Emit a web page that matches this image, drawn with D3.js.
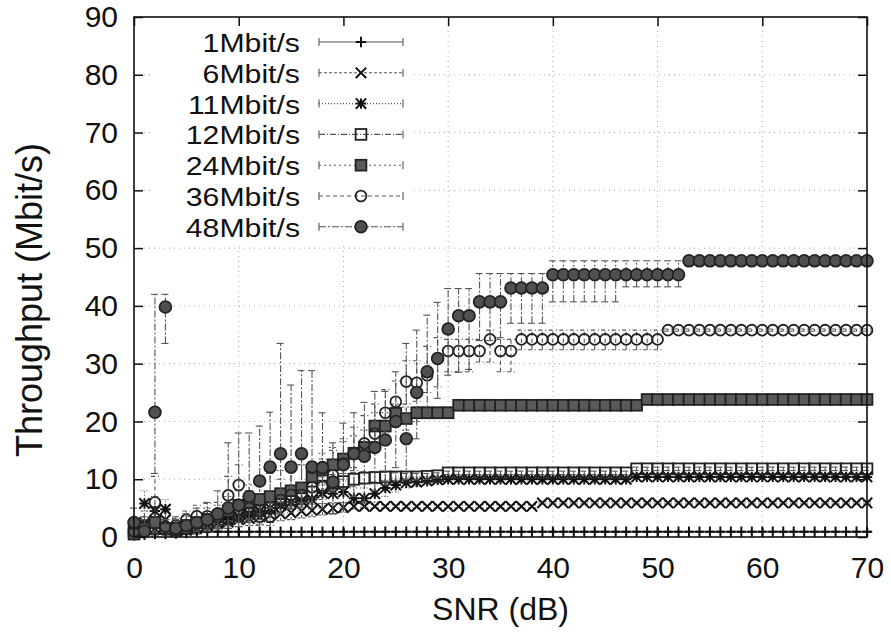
<!DOCTYPE html>
<html>
<head>
<meta charset="utf-8">
<script src="https://cdn.jsdelivr.net/npm/d3@7"></script>
<style>
body{margin:0;background:#fff;}
text{font-family:"Liberation Sans",Arial,Helvetica,sans-serif;fill:#111;}
</style>
</head>
<body>
<script>
//SVG VARIABLES
var width=891, height=634;
var plotLeft=134, plotRight=867, plotTop=17, plotBottom=537;

//DATA: SNR (dB) and [low, mean, high] throughput per rate
var snr=[0,1,2,3,4,5,6,7,8,9,10,11,12,13,14,15,16,17,18,19,20,21,22,23,24,25,26,27,28,29,30,
31,32,33,34,35,36,37,38,39,40,41,42,43,44,45,46,47,48,49,50,51,52,53,54,55,56,57,58,59,60,
61,62,63,64,65,66,67,68,69,70];
var xTicks=[0,10,20,30,40,50,60,70];
var yTicks=[0,10,20,30,40,50,60,70,80,90];
var rateNames=["1Mbit/s","6Mbit/s","11Mbit/s","12Mbit/s","24Mbit/s","36Mbit/s","48Mbit/s"];

var r1=[[0.1,0.3,0.6],[0.2,0.4,0.7],[0.2,0.5,0.8],[0.3,0.5,0.8],[0.3,0.6,0.9],[0.4,0.7,1.0],[0.5,0.8,1.0],
[0.8,0.9,1.0],[0.8,0.9,1.0],[0.8,0.9,1.0],[0.8,0.9,1.0],[0.8,0.9,1.0],[0.8,0.9,1.0],[0.8,0.9,1.0],[0.8,0.9,1.0],
[0.8,0.9,1.0],[0.8,0.9,1.0],[0.8,0.9,1.0],[0.8,0.9,1.0],[0.8,0.9,1.0],[0.8,0.9,1.0],[0.8,0.9,1.0],[0.8,0.9,1.0],
[0.8,0.9,1.0],[0.8,0.9,1.0],[0.8,0.9,1.0],[0.8,0.9,1.0],[0.8,0.9,1.0],[0.8,0.9,1.0],[0.8,0.9,1.0],[0.8,0.9,1.0],
[0.8,0.9,1.0],[0.8,0.9,1.0],[0.8,0.9,1.0],[0.8,0.9,1.0],[0.8,0.9,1.0],[0.8,0.9,1.0],[0.8,0.9,1.0],[0.8,0.9,1.0],
[0.8,0.9,1.0],[0.8,0.9,1.0],[0.8,0.9,1.0],[0.8,0.9,1.0],[0.8,0.9,1.0],[0.8,0.9,1.0],[0.8,0.9,1.0],[0.8,0.9,1.0],
[0.8,0.9,1.0],[0.8,0.9,1.0],[0.8,0.9,1.0],[0.8,0.9,1.0],[0.8,0.9,1.0],[0.8,0.9,1.0],[0.8,0.9,1.0],[0.8,0.9,1.0],
[0.8,0.9,1.0],[0.8,0.9,1.0],[0.8,0.9,1.0],[0.8,0.9,1.0],[0.8,0.9,1.0],[0.8,0.9,1.0],[0.8,0.9,1.0],[0.8,0.9,1.0],
[0.8,0.9,1.0],[0.8,0.9,1.0],[0.8,0.9,1.0],[0.8,0.9,1.0],[0.8,0.9,1.0],[0.8,0.9,1.0],[0.8,0.9,1.0],[0.8,0.9,1.0]];

var r6=[[0.2,0.8,1.8],[1.0,2.5,4.5],[0.5,1.5,3.0],[1.5,3.0,4.5],[0.4,1.0,2.0],[0.5,1.2,2.2],[0.7,1.5,2.6],
[1.0,2.0,3.2],[1.2,2.3,3.5],[1.5,2.6,3.8],[1.8,3.0,4.2],[2.0,3.2,4.4],[2.2,3.5,4.7],[2.5,3.8,5.0],[2.8,4.0,5.2],
[3.0,4.2,5.4],[3.3,4.5,5.6],[3.5,4.6,5.7],[3.8,4.8,5.8],[4.0,5.0,5.9],[4.3,5.1,5.9],[4.8,5.3,5.9],
[5.0,5.3,5.6],[5.0,5.3,5.6],[5.0,5.3,5.6],[5.0,5.3,5.6],[5.0,5.3,5.6],[5.0,5.3,5.6],[5.0,5.3,5.6],[5.0,5.3,5.6],
[5.0,5.3,5.6],[5.0,5.3,5.6],[5.0,5.3,5.6],[5.0,5.3,5.6],[5.0,5.3,5.6],[5.0,5.3,5.6],[5.0,5.3,5.6],[5.0,5.3,5.6],
[5.0,5.3,5.6],
[5.7,5.9,6.1],[5.7,5.9,6.1],[5.7,5.9,6.1],[5.7,5.9,6.1],[5.7,5.9,6.1],[5.7,5.9,6.1],[5.7,5.9,6.1],[5.7,5.9,6.1],
[5.7,5.9,6.1],[5.7,5.9,6.1],[5.7,5.9,6.1],[5.7,5.9,6.1],[5.7,5.9,6.1],[5.7,5.9,6.1],[5.7,5.9,6.1],[5.7,5.9,6.1],
[5.7,5.9,6.1],[5.7,5.9,6.1],[5.7,5.9,6.1],[5.7,5.9,6.1],[5.7,5.9,6.1],[5.7,5.9,6.1],[5.7,5.9,6.1],[5.7,5.9,6.1],
[5.7,5.9,6.1],[5.7,5.9,6.1],[5.7,5.9,6.1],[5.7,5.9,6.1],[5.7,5.9,6.1],[5.7,5.9,6.1],[5.7,5.9,6.1],[5.7,5.9,6.1]];

var r11=[[0.5,1.5,3.0],[3.5,5.8,8.0],[2.5,4.5,7.0],[3.0,4.8,6.5],[0.3,1.0,2.0],[0.5,1.2,2.4],[0.8,1.6,2.8],
[1.0,2.0,3.4],[1.5,2.6,4.0],[1.8,3.0,4.5],[2.2,3.5,5.0],[2.6,4.0,5.5],[3.0,4.5,6.2],[3.5,5.0,6.8],[3.8,5.5,7.2],
[4.2,6.0,7.8],[4.5,6.3,8.2],[4.8,6.5,8.5],[5.5,7.6,9.4],[5.5,7.5,9.5],[6.0,7.8,9.7],[5.0,6.7,8.5],[5.2,6.7,8.5],
[6.0,7.5,9.2],[7.0,8.5,9.8],[7.8,9.0,10.2],[8.5,9.4,10.4],[8.8,9.5,10.4],[9.0,9.7,10.5],[9.3,9.9,10.5],
[9.6,10.0,10.4],[9.6,10.0,10.4],[9.6,10.0,10.4],[9.6,10.0,10.4],[9.6,10.0,10.4],[9.6,10.0,10.4],[9.6,10.0,10.4],
[9.6,10.0,10.4],[9.6,10.0,10.4],[9.6,10.0,10.4],[9.6,10.0,10.4],[9.6,10.0,10.4],[9.6,10.0,10.4],[9.6,10.0,10.4],
[9.6,10.0,10.4],[9.6,10.0,10.4],[9.6,10.0,10.4],[9.6,10.0,10.4],
[10.1,10.4,10.7],[10.1,10.4,10.7],[10.1,10.4,10.7],[10.1,10.4,10.7],[10.1,10.4,10.7],[10.1,10.4,10.7],
[10.1,10.4,10.7],[10.1,10.4,10.7],[10.1,10.4,10.7],[10.1,10.4,10.7],[10.1,10.4,10.7],[10.1,10.4,10.7],
[10.1,10.4,10.7],[10.1,10.4,10.7],[10.1,10.4,10.7],[10.1,10.4,10.7],[10.1,10.4,10.7],[10.1,10.4,10.7],
[10.1,10.4,10.7],[10.1,10.4,10.7],[10.1,10.4,10.7],[10.1,10.4,10.7],[10.1,10.4,10.7]];

var r12=[[0.3,1.0,2.5],[0.8,2.0,3.5],[1.0,2.5,4.0],[0.5,1.5,3.0],[0.5,1.2,2.4],[0.7,1.5,2.8],[1.0,2.0,3.4],
[1.3,2.5,4.0],[1.7,3.0,4.6],[2.0,3.5,5.2],[2.5,4.0,5.8],[2.5,4.0,6.0],[3.0,4.5,6.6],[3.5,5.0,7.2],[4.2,6.0,8.0],
[4.8,6.5,8.5],[5.2,7.0,9.0],[6.0,7.8,9.6],[7.0,8.8,10.4],[7.8,9.3,10.8],[8.3,9.6,11.0],[8.8,10.0,11.2],
[9.2,10.2,11.3],[9.5,10.3,11.3],[9.7,10.4,11.2],[9.8,10.4,11.1],[9.9,10.4,11.0],[9.9,10.4,11.0],[10.0,10.5,11.0],
[10.2,10.6,11.1],
[10.8,11.1,11.4],[10.8,11.1,11.4],[10.8,11.1,11.4],[10.8,11.1,11.4],[10.8,11.1,11.4],[10.8,11.1,11.4],
[10.8,11.1,11.4],[10.8,11.1,11.4],[10.8,11.1,11.4],[10.8,11.1,11.4],[10.8,11.1,11.4],[10.8,11.1,11.4],
[10.8,11.1,11.4],[10.8,11.1,11.4],[10.8,11.1,11.4],[10.8,11.1,11.4],[10.8,11.1,11.4],[10.8,11.1,11.4],
[11.5,11.8,12.1],[11.5,11.8,12.1],[11.5,11.8,12.1],[11.5,11.8,12.1],[11.5,11.8,12.1],[11.5,11.8,12.1],
[11.5,11.8,12.1],[11.5,11.8,12.1],[11.5,11.8,12.1],[11.5,11.8,12.1],[11.5,11.8,12.1],[11.5,11.8,12.1],
[11.5,11.8,12.1],[11.5,11.8,12.1],[11.5,11.8,12.1],[11.5,11.8,12.1],[11.5,11.8,12.1],[11.5,11.8,12.1],
[11.5,11.8,12.1],[11.5,11.8,12.1],[11.5,11.8,12.1],[11.5,11.8,12.1],[11.5,11.8,12.1]];

var r24=[[0.1,0.5,1.5],[0.5,1.5,3.0],[1.0,2.5,4.5],[0.5,1.5,3.0],[0.6,1.5,3.0],[1.0,2.0,3.5],[1.3,2.5,4.5],
[1.6,3.0,5.0],[2.0,3.5,5.5],[2.8,4.5,7.0],[3.5,5.5,8.0],[4.0,6.0,9.0],[4.5,6.5,10.0],[5.0,7.0,11.0],[5.5,7.5,11.5],
[6.0,8.0,12.0],[6.5,8.5,12.5],[8.0,10.4,13.0],[9.0,11.6,14.5],[10.0,12.5,15.5],[11.0,13.5,16.5],[12.0,14.5,17.5],
[13.0,15.5,18.5],[16.5,19.2,21.5],[17.0,19.2,21.5],[19.0,21.4,23.0],[18.5,20.5,22.5],[20.0,21.5,22.5],
[20.5,21.5,22.5],[20.8,21.5,22.5],[21.0,21.5,22.5],
[22.4,22.8,23.2],[22.4,22.8,23.2],[22.4,22.8,23.2],[22.4,22.8,23.2],[22.4,22.8,23.2],[22.4,22.8,23.2],
[22.4,22.8,23.2],[22.4,22.8,23.2],[22.4,22.8,23.2],[22.4,22.8,23.2],[22.4,22.8,23.2],[22.4,22.8,23.2],
[22.4,22.8,23.2],[22.4,22.8,23.2],[22.4,22.8,23.2],[22.4,22.8,23.2],[22.4,22.8,23.2],[22.4,22.8,23.2],
[23.5,23.8,24.1],[23.5,23.8,24.1],[23.5,23.8,24.1],[23.5,23.8,24.1],[23.5,23.8,24.1],[23.5,23.8,24.1],
[23.5,23.8,24.1],[23.5,23.8,24.1],[23.5,23.8,24.1],[23.5,23.8,24.1],[23.5,23.8,24.1],[23.5,23.8,24.1],
[23.5,23.8,24.1],[23.5,23.8,24.1],[23.5,23.8,24.1],[23.5,23.8,24.1],[23.5,23.8,24.1],[23.5,23.8,24.1],
[23.5,23.8,24.1],[23.5,23.8,24.1],[23.5,23.8,24.1],[23.5,23.8,24.1]];

var r36=[[0.3,1.0,2.0],[1.0,2.0,3.5],[2.0,6.0,10.5],[0.8,1.8,3.0],[1.0,2.0,3.2],[1.8,3.0,4.5],[2.0,3.6,5.5],
[2.0,3.6,5.8],[2.0,3.5,6.0],[4.5,7.2,10.5],[6.0,9.0,12.5],[3.0,5.0,8.0],[2.0,3.5,6.0],[2.0,3.5,6.5],[4.0,6.4,10.0],
[5.0,7.3,12.0],[5.0,7.3,12.5],[6.0,8.6,13.0],[6.5,8.7,13.5],[8.0,10.7,15.0],[10.0,12.7,17.0],[11.5,14.4,19.0],
[13.5,16.2,21.0],[15.0,17.9,23.0],[18.0,21.5,25.5],[20.0,23.4,27.0],[23.0,26.9,30.5],[23.5,26.7,30.5],
[25.0,28.0,33.0],[26.0,30.9,34.5],[28.6,32.2,34.2],[28.6,32.2,34.2],[28.6,32.2,34.2],[30.3,32.2,34.2],
[30.3,34.2,35.8],[28.6,32.2,34.2],[28.6,32.2,34.2],
[32.4,34.2,35.8],[32.4,34.2,35.8],[32.4,34.2,35.8],[32.4,34.2,35.8],[32.4,34.2,35.8],[32.4,34.2,35.8],
[32.4,34.2,35.8],[32.4,34.2,35.8],[32.4,34.2,35.8],[32.4,34.2,35.8],[32.4,34.2,35.8],[32.4,34.2,35.8],
[32.4,34.2,35.8],[32.4,34.2,35.8],
[35.6,35.8,36.0],[35.6,35.8,36.0],[35.6,35.8,36.0],[35.6,35.8,36.0],[35.6,35.8,36.0],[35.6,35.8,36.0],
[35.6,35.8,36.0],[35.6,35.8,36.0],[35.6,35.8,36.0],[35.6,35.8,36.0],[35.6,35.8,36.0],[35.6,35.8,36.0],
[35.6,35.8,36.0],[35.6,35.8,36.0],[35.6,35.8,36.0],[35.6,35.8,36.0],[35.6,35.8,36.0],[35.6,35.8,36.0],
[35.6,35.8,36.0],[35.6,35.8,36.0]];

var r48=[[0.5,2.5,5.0],[0.2,1.0,3.0],[11.0,21.6,42.0],[33.5,39.8,42.0],[0.5,1.5,3.5],[0.8,2.0,4.0],[1.0,2.5,5.0],
[1.2,3.0,6.0],[1.5,4.0,8.0],[2.0,5.0,16.3],[2.5,5.5,18.0],[3.0,7.0,18.0],[4.0,9.7,19.2],[5.0,12.1,21.6],
[6.0,14.4,33.5],[5.0,12.1,26.3],[6.0,14.4,28.8],[5.0,12.1,28.8],[5.0,12.0,21.5],[4.0,9.5,16.3],[5.0,12.5,19.7],
[7.0,14.4,21.5],[6.0,14.0,23.3],[8.0,15.5,25.2],[9.0,16.8,25.2],[12.0,20.0,28.6],[10.0,17.0,33.5],
[17.0,25.0,35.8],[21.0,28.6,38.4],[24.0,30.9,40.6],[28.0,36.0,43.0],[28.5,38.3,43.0],[29.0,38.3,43.0],
[34.0,40.7,45.6],[34.0,40.7,45.6],[34.5,40.7,45.6],[37.0,43.1,45.6],[37.0,43.1,45.6],[37.0,43.1,45.6],
[37.0,43.1,45.6],
[40.7,45.4,47.8],[40.7,45.4,47.8],[40.7,45.4,47.8],[40.7,45.4,47.8],[40.7,45.4,47.8],[40.7,45.4,47.8],
[40.7,45.4,47.8],
[43.3,45.4,47.8],[43.3,45.4,47.8],[43.3,45.4,47.8],[43.3,45.4,47.8],[43.3,45.4,47.8],[43.3,45.4,47.8],
[47.6,47.8,48.0],[47.6,47.8,48.0],[47.6,47.8,48.0],[47.6,47.8,48.0],[47.6,47.8,48.0],[47.6,47.8,48.0],
[47.6,47.8,48.0],[47.6,47.8,48.0],[47.6,47.8,48.0],[47.6,47.8,48.0],[47.6,47.8,48.0],[47.6,47.8,48.0],
[47.6,47.8,48.0],[47.6,47.8,48.0],[47.6,47.8,48.0],[47.6,47.8,48.0],[47.6,47.8,48.0],[47.6,47.8,48.0]];

var rateData=[r1,r6,r11,r12,r24,r36,r48];
//point type and errorbar dash per series, gnuplot style
var pointTypes=["plus","cross","star","square","fsquare","circle","fcircle"];
var dashes=[null,"3,2","1,2","6,2,1,2","2,3","4,3","7,2,2,2"];

var svg=d3.select("body").append("svg")
          .attr("width",width)
          .attr("height",height)
          .style("display","block");

var x=d3.scaleLinear().domain([0,70]).range([plotLeft,plotRight]);
var y=d3.scaleLinear().domain([0,90]).range([plotBottom,plotTop]);

//GRID
var grid=svg.append("g").attr("id","grid")
            .attr("stroke","#aaa").attr("stroke-width",1).attr("stroke-dasharray","1,4");
grid.selectAll("line.gx").data(xTicks.slice(1,-1)).enter().append("line")
    .attr("x1",function(d){return x(d);}).attr("x2",function(d){return x(d);})
    .attr("y1",plotBottom).attr("y2",plotTop);
grid.selectAll("line.gy").data(yTicks.slice(1,-1)).enter().append("line")
    .attr("y1",function(d){return y(d);}).attr("y2",function(d){return y(d);})
    .attr("x1",plotLeft).attr("x2",plotRight);

//key area hides the grid behind it
svg.append("rect").attr("x",150).attr("y",24).attr("width",262).attr("height",218).attr("fill","#fff");

//AXES (ticks inward, mirrored)
var axB=svg.append("g").attr("transform","translate(0,"+plotBottom+")")
    .call(d3.axisBottom(x).tickValues(xTicks).tickSize(-9).tickPadding(20));
var axT=svg.append("g").attr("transform","translate(0,"+plotTop+")")
    .call(d3.axisTop(x).tickValues(xTicks).tickSize(-9).tickFormat(""));
var axL=svg.append("g").attr("transform","translate("+plotLeft+",0)")
    .call(d3.axisLeft(y).tickValues(yTicks).tickSize(-9).tickPadding(16));
var axR=svg.append("g").attr("transform","translate("+plotRight+",0)")
    .call(d3.axisRight(y).tickValues(yTicks).tickSize(-9).tickFormat(""));
[axB,axT,axL,axR].forEach(function(a){
  a.select(".domain").remove();
  a.selectAll(".tick line").attr("stroke","#111").attr("stroke-width",1.5);
  a.selectAll(".tick text").attr("font-size",30).attr("font-family","Liberation Sans, Arial, sans-serif").attr("fill","#111");
});

//MARKERS
function drawPoint(g,type,cx,cy){
  var s=5.2;
  if(type=="plus"||type=="cross"||type=="star"){
    var p="";
    if(type!="cross") p+="M"+(cx-s)+","+cy+"H"+(cx+s)+"M"+cx+","+(cy-s)+"V"+(cy+s);
    if(type!="plus") p+="M"+(cx-s)+","+(cy-s)+"L"+(cx+s)+","+(cy+s)+"M"+(cx-s)+","+(cy+s)+"L"+(cx+s)+","+(cy-s);
    g.append("path").attr("d",p).attr("stroke","#111").attr("stroke-width",2).attr("fill","none");
  } else if(type=="square"||type=="fsquare"){
    g.append("rect").attr("x",cx-5.4).attr("y",cy-5.4).attr("width",10.8).attr("height",10.8)
     .attr("fill",type=="fsquare"?"#5a5a5a":"none").attr("stroke","#222").attr("stroke-width",1.8);
  } else {
    g.append("circle").attr("cx",cx).attr("cy",cy).attr("r",type=="fcircle"?5.9:5.4)
     .attr("fill",type=="fcircle"?"#505050":"none").attr("stroke","#222").attr("stroke-width",1.8);
  }
}

//SERIES
var plotg=svg.append("g").attr("id","series");
rateData.forEach(function(series,k){
  var g=plotg.append("g").attr("class","rate"+k);
  var eb=g.append("g").attr("stroke","#555").attr("stroke-width",1.1)
          .attr("stroke-dasharray",dashes[k]);
  series.forEach(function(v,i){
    var cx=x(snr[i]);
    eb.append("line").attr("x1",cx).attr("x2",cx).attr("y1",y(v[0])).attr("y2",y(v[2]));
    eb.append("line").attr("x1",cx-4).attr("x2",cx+4).attr("y1",y(v[0])).attr("y2",y(v[0])).attr("stroke-dasharray",null);
    eb.append("line").attr("x1",cx-4).attr("x2",cx+4).attr("y1",y(v[2])).attr("y2",y(v[2])).attr("stroke-dasharray",null);
  });
  series.forEach(function(v,i){ drawPoint(g,pointTypes[k],x(snr[i]),y(v[1])); });
});

//FRAME
svg.append("rect").attr("x",plotLeft).attr("y",plotTop)
   .attr("width",plotRight-plotLeft).attr("height",plotBottom-plotTop)
   .attr("fill","none").attr("stroke","#111").attr("stroke-width",1.6);

//KEY (text drawn a bit smaller, then widened to the reference width)
var key=svg.append("g").attr("id","key");
rateNames.forEach(function(name,k){
  var ky=42+k*30.8;
  var t=key.append("text").attr("x",300).attr("y",ky+10).attr("text-anchor","end")
     .attr("font-size",26.5).text(name);
  t.attr("textLength",t.node().getComputedTextLength()*1.14).attr("lengthAdjust","spacingAndGlyphs");
  var kg=key.append("g").attr("stroke","#555").attr("stroke-width",1.1);
  kg.append("line").attr("x1",319).attr("x2",403).attr("y1",ky).attr("y2",ky).attr("stroke-dasharray",dashes[k]);
  kg.append("line").attr("x1",319).attr("x2",319).attr("y1",ky-4).attr("y2",ky+4);
  kg.append("line").attr("x1",403).attr("x2",403).attr("y1",ky-4).attr("y2",ky+4);
  drawPoint(key,pointTypes[k],361,ky);
});

//AXIS TITLES
svg.append("text").attr("x",(plotLeft+plotRight)/2).attr("y",620).attr("text-anchor","middle")
   .attr("font-size",32).text("SNR (dB)");
svg.append("text").attr("transform","translate(42,300) rotate(-90)")
   .attr("text-anchor","middle").attr("font-size",36).text("Throughput (Mbit/s)");
</script>
</body>
</html>
